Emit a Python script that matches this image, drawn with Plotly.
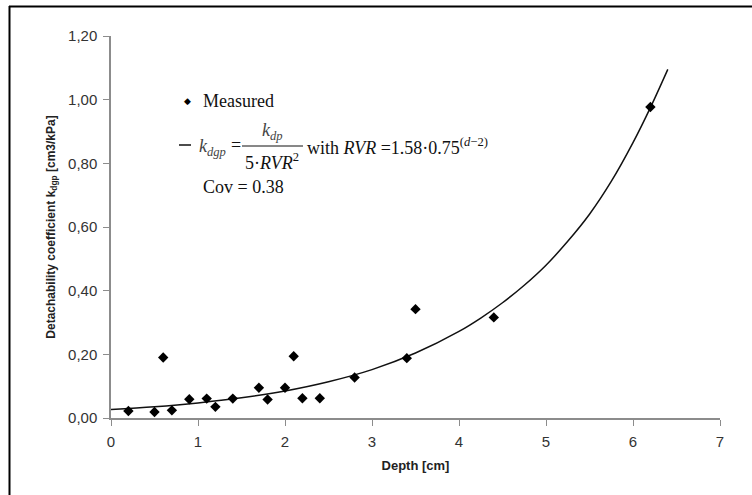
import plotly.graph_objects as go

# Measured data
depth = [0.2, 0.5, 0.6, 0.7, 0.9, 1.1, 1.2, 1.4, 1.7, 1.8, 2.0, 2.1, 2.2, 2.4, 2.8, 3.4, 3.5, 4.4, 6.2]
kdgp = [0.022, 0.019, 0.19, 0.024, 0.059, 0.061, 0.035, 0.061, 0.095, 0.058, 0.095, 0.194, 0.062, 0.062, 0.127, 0.188, 0.342, 0.316, 0.977]

# Fitted curve
curve_depth = [0.0, 0.5, 1.0, 1.5, 2.0, 2.5, 3.0, 3.5, 4.0, 4.25, 4.5, 4.75, 5.0, 5.25, 5.5, 5.75, 6.0, 6.2, 6.4]
curve_kdgp = [0.027, 0.0355, 0.0474, 0.0635, 0.085, 0.114, 0.152, 0.204, 0.272, 0.314, 0.362, 0.417, 0.48, 0.555, 0.64, 0.743, 0.865, 0.975, 1.095]

x_ticks = [0, 1, 2, 3, 4, 5, 6, 7]
y_ticks = [0.0, 0.2, 0.4, 0.6, 0.8, 1.0, 1.2]

W, H = 752, 495
L, R, T, B = 111, 720, 36, 418


def px(x):
    return (x - L) / (R - L)


def py(y):
    return (B - y) / (B - T)


fig = go.Figure()
fig.add_trace(go.Scatter(x=curve_depth, y=curve_kdgp, mode="lines",
                         line=dict(color="#111", width=1.5, shape="spline", smoothing=1.0),
                         hoverinfo="skip", showlegend=False))
fig.add_trace(go.Scatter(x=depth, y=kdgp, mode="markers",
                         marker=dict(symbol="diamond", size=8, color="#000"),
                         showlegend=False))

axis_common = dict(showgrid=False, zeroline=False, showline=True, linecolor="#8c8c8c",
                   linewidth=1.5, ticks="outside", ticklen=6, tickcolor="#8c8c8c",
                   ticklabelstandoff=3,
                   tickfont=dict(family="Liberation Sans, Arial", size=15, color="#333"))

fig.update_xaxes(range=[0, 7], tickvals=x_ticks, tickformat="d",
                 title=dict(text="<b>Depth [cm]</b>", font=dict(family="Liberation Sans, Arial", size=13, color="#222"), standoff=12),
                 **axis_common)
fig.update_yaxes(range=[0, 1.2], tickvals=y_ticks, tickformat=".2f",
                 title=dict(text="<b>Detachability coefficient k<sub>dgp</sub> [cm3/kPa]</b>",
                            font=dict(family="Liberation Sans, Arial", size=12, color="#222"), standoff=10),
                 **axis_common)

serif = dict(family="Liberation Serif, Times New Roman", size=18, color="#111")
serif_i = dict(family="Liberation Serif, Times New Roman", size=18, color="#444")

ann = []


def add(text, x, y, font, xanchor="left"):
    ann.append(dict(text=text, x=px(x), y=py(y), xref="paper", yref="paper",
                    xanchor=xanchor, yanchor="middle", showarrow=False, font=font))


add("◆", 187, 101, dict(family="DejaVu Sans", size=9, color="#000"), "center")
add("Measured", 201, 101, serif)
add("<i>k</i><sub><i>dgp</i></sub>", 197, 147, serif_i)
add("=", 229, 145, serif)
add("<i>k</i><sub><i>dp</i></sub>", 272, 131, serif_i, "center")
add("5·<i>RVR</i><sup>2</sup>", 272, 161, serif, "center")
add("with <i>RVR</i> =1.58·0.75<sup>(<i>d</i>−2)</sup>", 305, 146, serif)
add("Cov = 0.38", 201, 187, serif)

shapes = [
    dict(type="line", xref="paper", yref="paper", x0=px(179), x1=px(191), y0=py(145), y1=py(145),
         line=dict(color="#111", width=1.5)),
    dict(type="line", xref="paper", yref="paper", x0=px(242), x1=px(303), y0=py(146), y1=py(146),
         line=dict(color="#111", width=1)),
    # outer frame (left and top edges)
    dict(type="line", xref="paper", yref="paper", x0=px(9.5), x1=px(9.5), y0=py(6), y1=py(H),
         line=dict(color="#000", width=2)),
    dict(type="line", xref="paper", yref="paper", x0=px(9), x1=px(W), y0=py(6.5), y1=py(6.5),
         line=dict(color="#000", width=2)),
]

fig.update_layout(width=W, height=H, margin=dict(l=L, r=W - R, t=T, b=H - B),
                  paper_bgcolor="white", plot_bgcolor="white", separators=",.",
                  annotations=ann, shapes=shapes, showlegend=False)

fig.write_html("out.html", config={"displayModeBar": False},
               post_script="document.body.style.margin='0';")
